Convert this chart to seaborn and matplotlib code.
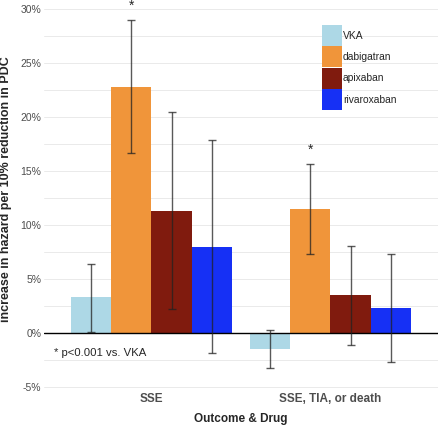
import matplotlib
matplotlib.use("Agg")
import matplotlib.pyplot as plt
from matplotlib.ticker import FuncFormatter, MultipleLocator
import seaborn as sns
import pandas as pd

# values (% increase in hazard)
outcomes = ["SSE", "SSE, TIA, or death"]
drugs = ["VKA", "dabigatran", "apixaban", "rivaroxaban"]
colors = ["#ADD8E6", "#F0953A", "#801B0E", "#1630F5"]

est_sse = [3.3, 22.8, 11.3, 8.0]
lo_sse = [0.1, 16.7, 2.2, -1.85]
hi_sse = [6.4, 29.0, 20.5, 17.9]

est_comp = [-1.5, 11.5, 3.5, 2.3]
lo_comp = [-3.25, 7.3, -1.1, -2.65]
hi_comp = [0.25, 15.7, 8.1, 7.3]

signif = [("SSE", "dabigatran"), ("SSE, TIA, or death", "dabigatran")]

rows = []
for outcome, est, lo, hi in [(outcomes[0], est_sse, lo_sse, hi_sse),
                             (outcomes[1], est_comp, lo_comp, hi_comp)]:
    for d, e, l, h in zip(drugs, est, lo, hi):
        rows.append({"outcome": outcome, "drug": d, "est": e, "lo": l, "hi": h})
df = pd.DataFrame(rows)

sns.set_style("white")
plt.rcParams["font.family"] = ["Liberation Sans", "DejaVu Sans"]

fig = plt.figure(figsize=(4.4, 4.25), dpi=100)
ax = fig.add_axes([0.1, 0.0815, 0.895, 0.9185])

sns.barplot(data=df, x="outcome", y="est", hue="drug", order=outcomes,
            hue_order=drugs, palette=colors, width=0.9, gap=0,
            linewidth=0, saturation=1, errorbar=None, ax=ax)

# error bars and significance stars at each bar centre
for d, cont in zip(drugs, ax.containers):
    sub = df[df.drug == d].set_index("outcome").loc[outcomes]
    for o, bar in zip(outcomes, cont):
        xc = bar.get_x() + bar.get_width() / 2
        r = sub.loc[o]
        ax.errorbar(xc, r.est, yerr=[[r.est - r.lo], [r.hi - r.est]],
                    color="#222222", alpha=0.75, elinewidth=1.0,
                    capsize=3, capthick=1.0, zorder=5)
        if (o, d) in signif:
            ax.text(xc, r.hi + 0.9, "*", ha="center", va="baseline",
                    fontsize=10, clip_on=False)

ax.axhline(0, color="black", linewidth=1.0, zorder=4)

ax.set_xlim(-0.6, 1.6)
ax.set_ylim(-5.3, 30.85)
ax.yaxis.set_major_locator(MultipleLocator(5))
ax.yaxis.set_minor_locator(MultipleLocator(2.5))
ax.yaxis.set_major_formatter(FuncFormatter(lambda v, p: f"{v:.0f}%"))
ax.grid(which="both", axis="y", color="#e6e6e6", linewidth=0.6)
ax.set_axisbelow(True)
sns.despine(ax=ax, left=True, bottom=True, top=True, right=True)
ax.tick_params(axis="both", length=0, labelsize=7.5, labelcolor="#4d4d4d", pad=2)
for t in ax.get_xticklabels():
    t.set_fontweight("bold")
    t.set_fontsize(8.5)

ax.set_ylabel("increase in hazard per 10% reduction in PDC",
              fontsize=9, fontweight="bold", labelpad=6)
ax.yaxis.label.set_y(0.515)
ax.set_xlabel("Outcome & Drug", fontsize=8.5, fontweight="bold", labelpad=5.5)

ax.text(-0.545, -1.85, "* p<0.001 vs. VKA", fontsize=8.2, va="center", ha="left")

handles, labels = ax.get_legend_handles_labels()
ax.legend(handles, labels, loc="upper left", bbox_to_anchor=(0.706, 0.936),
          frameon=False, fontsize=7.4, handlelength=1.95, handleheight=2.77,
          labelspacing=0.03, handletextpad=0.1, borderpad=0, borderaxespad=0)

fig.savefig("out.png", dpi=100)
